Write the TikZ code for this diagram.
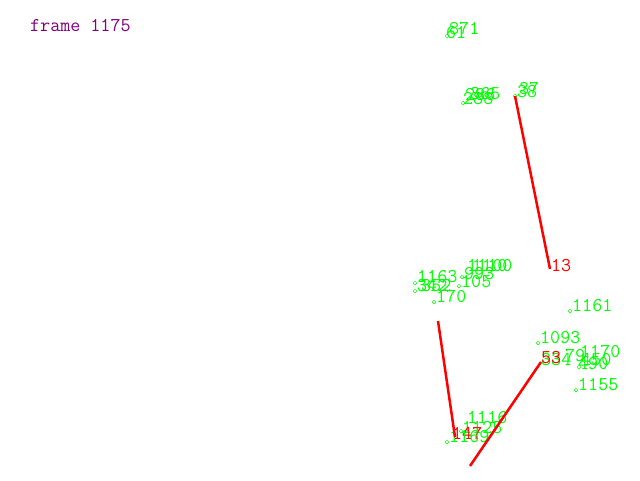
\documentclass[tikz,border=0pt]{standalone}
\usetikzlibrary{shapes.geometric}
\definecolor{lgreen}{RGB}{0,255,0}
\definecolor{lred}{RGB}{255,0,0}
\definecolor{lpurple}{RGB}{128,0,128}
\begin{document}
\begin{tikzpicture}[x=1pt,y=-1pt,
  lbl/.style={anchor=base west,inner sep=0pt,font=\ttfamily\fontsize{19.5}{19.5}\selectfont,text=lgreen},
  rlbl/.style={lbl,text=lred},
  mk/.style={diamond,draw=lgreen,line width=0.5pt,inner sep=0pt,minimum size=4pt},
  trk/.style={draw=lred,line width=2.5pt}]
\useasboundingbox (0,0) rectangle (640,480);
\fill[white] (0,0) rectangle (640,480);
\node[lbl,text=lpurple] (title) at (30,31) {frame 1175};
% top group
\node[mk] (m871) at (447,36) {};
\node[lbl] (t871) at (449,34) {871};
\node[lbl] (t61) at (446,38) {61};
\node[mk] (m286) at (463,103) {};
\node[lbl] (t286) at (465,100) {286};
\node[lbl] (t288) at (463,104) {288};
\node[lbl] (t365) at (470,99) {365};
\node[mk] (m37) at (515,96) {};
\node[lbl] (t37) at (519,94) {37};
\node[lbl] (t38) at (517,97) {38};
\node[rlbl] (t13) at (551,271) {13};
\coordinate (c13) at (550,269);
% middle cluster
\node[mk] (m1100) at (462,277) {};
\node[lbl] (t1110) at (467,271) {1110};
\node[lbl] (t1100) at (472,271) {1100};
\node[lbl] (t993) at (464,279) {993};
\node[mk] (m105) at (459,286) {};
\node[lbl] (t105) at (461,287) {105};
\node[mk] (m1163) at (415,283) {};
\node[lbl] (t1163) at (417,282) {1163};
\node[mk] (m342) at (415,291) {};
\node[lbl] (t342) at (417,291) {342};
\node[lbl] (t352) at (421,291) {352};
\node[mk] (m170) at (434,302) {};
\node[lbl] (t170) at (436,302) {170};
\node[mk] (m1161) at (570,311) {};
\node[lbl] (t1161) at (572,311) {1161};
% right cluster
\node[mk] (m1093) at (538,343) {};
\node[lbl] (t1093) at (540,343) {1093};
\node[lbl] (t334) at (541,365) {334};
\node[lbl] (t79) at (565,361) {79};
\node[mk] (m450) at (579,367) {};
\node[lbl] (t1170) at (580,357) {1170};
\node[lbl] (t450) at (581,365) {450};
\node[lbl] (t490) at (578,369) {490};
\node[rlbl] (t53) at (541,363) {53};
\coordinate (c53) at (541,362);
\node[mk] (m1155) at (576,390) {};
\node[lbl] (t1155) at (578,390) {1155};
% bottom cluster
\node[lbl] (t1116) at (467,423) {1116};
\node[mk] (m1125) at (461,431) {};
\node[lbl] (t1125) at (462,433) {1125};
\node[rlbl] (t147) at (452,439) {147};
\node[mk] (m1169) at (447,442) {};
\node[lbl] (t1169) at (449,442) {1169};
\coordinate (c147) at (455,437);
\coordinate (s1) at (438,321);
\coordinate (s2) at (470,466);
% tracks
\draw[trk] (m37.center) -- (c13);
\draw[trk] (s1) -- (c147);
\draw[trk] (s2) -- (c53);
\end{tikzpicture}
\end{document}
